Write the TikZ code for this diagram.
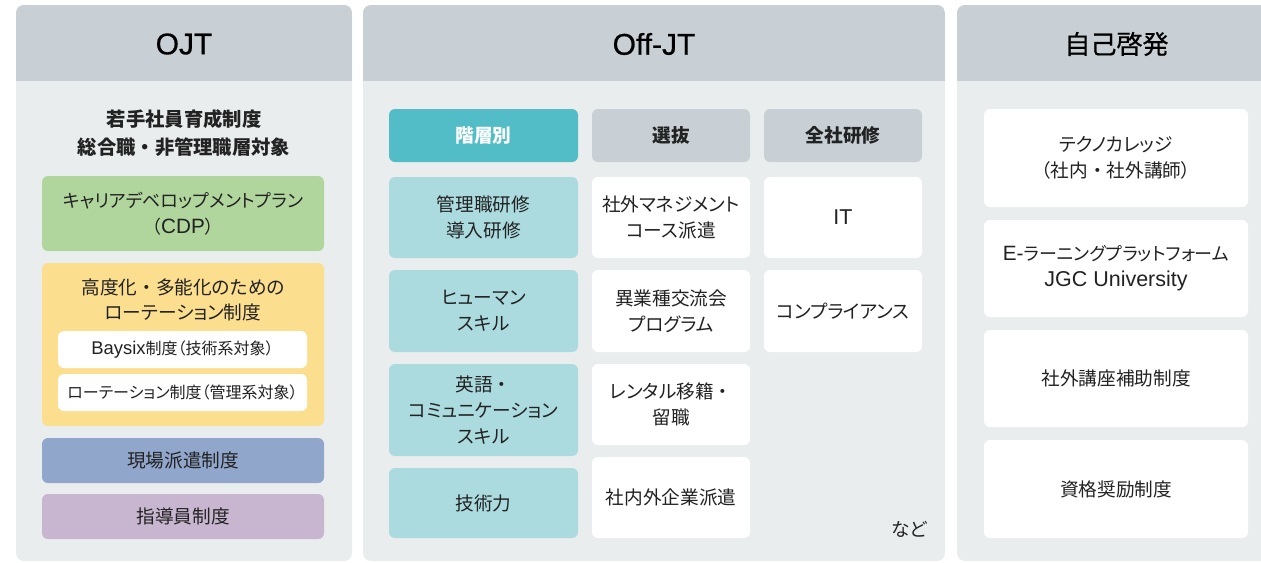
\documentclass[tikz,border=0pt]{standalone}
\usepackage{fontspec}
\setmainfont{Noto Sans CJK JP}[RawFeature=+palt]
\newfontfamily\fwfont{Noto Sans CJK JP}
\newfontfamily\latfont{Liberation Sans}[Scale=1.15]
\newfontfamily\hdrlat{Liberation Sans}[FakeBold=0.5]
\newfontfamily\hdrcjk{Noto Sans CJK JP}[FakeBold=0.5]
\newcommand{\MD}{{\fwfont ・}}
\definecolor{panelbg}{HTML}{EAEDEE}
\definecolor{headbg}{HTML}{C8D0D5}
\definecolor{tealdark}{HTML}{53BDC7}
\definecolor{teallight}{HTML}{ABDBDF}
\definecolor{greenc}{HTML}{B0D69D}
\definecolor{yellowc}{HTML}{FCDE8F}
\definecolor{bluec}{HTML}{91A6CB}
\definecolor{purplec}{HTML}{C8B5D0}
\definecolor{ink}{HTML}{222222}
\tikzset{
  sz/.style 2 args={minimum width=#1*0.75pt,minimum height=#2*0.75pt},
  box/.style={rounded corners=4.5pt,inner sep=0pt,align=center,text=ink,
    font=\fontsize{14}{19.5}\selectfont},
  hdr/.style={inner sep=0pt,text=black},
  subhdr/.style={box,fill=headbg,font=\bfseries\fontsize{14}{18}\selectfont},
  wbox/.style={box,fill=white},
  lteal/.style={box,fill=teallight},
  smallbox/.style={box,fill=white,font=\fontsize{12}{14}\selectfont},
  txt/.style={inner sep=0pt,align=center,text=ink,font=\fontsize{14}{19}\selectfont}
}
\begin{document}
\begin{tikzpicture}[x=0.75pt,y=-0.75pt]
\useasboundingbox (0,0) rectangle (1261,562);
\clip (0,0) rectangle (1261,562);
% panels
\foreach \xa/\xb in {16/352,363/945,957/1276}{
  \fill[panelbg,rounded corners=6pt] (\xa,5) rectangle (\xb,561);
  \begin{scope}
    \clip[rounded corners=6pt] (\xa,5) rectangle (\xb,561);
    \fill[headbg] (\xa,5) rectangle (\xb,81);
  \end{scope}
}
% headers
\node[hdr,font=\hdrlat\fontsize{22.5}{24}\selectfont] (hojt) at (184,44) {OJT};
\node[hdr,font=\hdrlat\fontsize{22.5}{24}\selectfont] (hoff) at (654,44) {Off-JT};
\node[hdr,font=\hdrcjk\fontsize{19.5}{24}\selectfont] (hself) at (1116.5,44) {自己啓発};
% OJT column
\node[txt,font=\bfseries\fontsize{14.5}{21.5}\selectfont] (ojttitle) at (184,133) {若手社員育成制度\\総合職\MD 非管理職層対象};
\node[box,fill=greenc,sz={282}{75},font=\fontsize{13.5}{19.5}\selectfont] (cdp) at (183,213.5) {キャリアデベロップメントプラン\\（{\latfont CDP}）};
\node[box,fill=yellowc,sz={282}{163}] (rotbox) at (183,344.5) {};
\node[txt] (rottitle) at (183,300) {高度化\MD 多能化のための\\ローテーション制度};
\node[smallbox,sz={249}{37}] (baysix) at (182.5,349.5) {{\latfont Baysix}制度（技術系対象）};
\node[smallbox,sz={249}{37}] (rotmgmt) at (182.5,392.5) {ローテーション制度（管理系対象）};
\node[box,fill=bluec,sz={282}{45}] (genba) at (183,460.5) {現場派遣制度};
\node[box,fill=purplec,sz={282}{45}] (shido) at (183,516.5) {指導員制度};
% Off-JT column
\node[subhdr,fill=tealdark,text=white,sz={189}{53}] (kaiso) at (483.5,135.5) {階層別};
\node[subhdr,sz={158}{53}] (senbatsu) at (671,135.5) {選抜};
\node[subhdr,sz={158}{53}] (zensha) at (843,135.5) {全社研修};
\node[lteal,sz={189}{81}] (k1) at (483.5,217.5) {管理職研修\\導入研修};
\node[lteal,sz={189}{82}] (k2) at (483.5,311) {ヒューマン\\スキル};
\node[lteal,sz={189}{92}] (k3) at (483.5,410) {英語\MD\\コミュニケーション\\スキル};
\node[lteal,sz={189}{70}] (k4) at (483.5,503) {技術力};
\node[wbox,sz={158}{81}] (s1) at (671,217.5) {社外マネジメント\\コース派遣};
\node[wbox,sz={158}{82}] (s2) at (671,311) {異業種交流会\\プログラム};
\node[wbox,sz={158}{81}] (s3) at (671,404.5) {レンタル移籍\MD\\留職};
\node[wbox,sz={158}{81}] (s4) at (671,497.5) {社内外企業派遣};
\node[wbox,sz={158}{81}] (z1) at (843,217.5) {{\latfont IT}};
\node[wbox,sz={158}{82}] (z2) at (843,311) {コンプライアンス};
\node[txt] (nado) at (909,529) {など};
% self development column
\node[wbox,sz={264}{98}] (d1) at (1116,158) {テクノカレッジ\\（社内\MD 社外講師）};
\node[wbox,sz={264}{97},font=\fontsize{13.5}{19.5}\selectfont] (d2) at (1116,268.5) {{\latfont E-}ラーニングプラットフォーム\\{\latfont\fontsize{14}{19.5}\selectfont JGC University}};
\node[wbox,sz={264}{97}] (d3) at (1116,378.5) {社外講座補助制度};
\node[wbox,sz={264}{98}] (d4) at (1116,489) {資格奨励制度};
\end{tikzpicture}
\end{document}
